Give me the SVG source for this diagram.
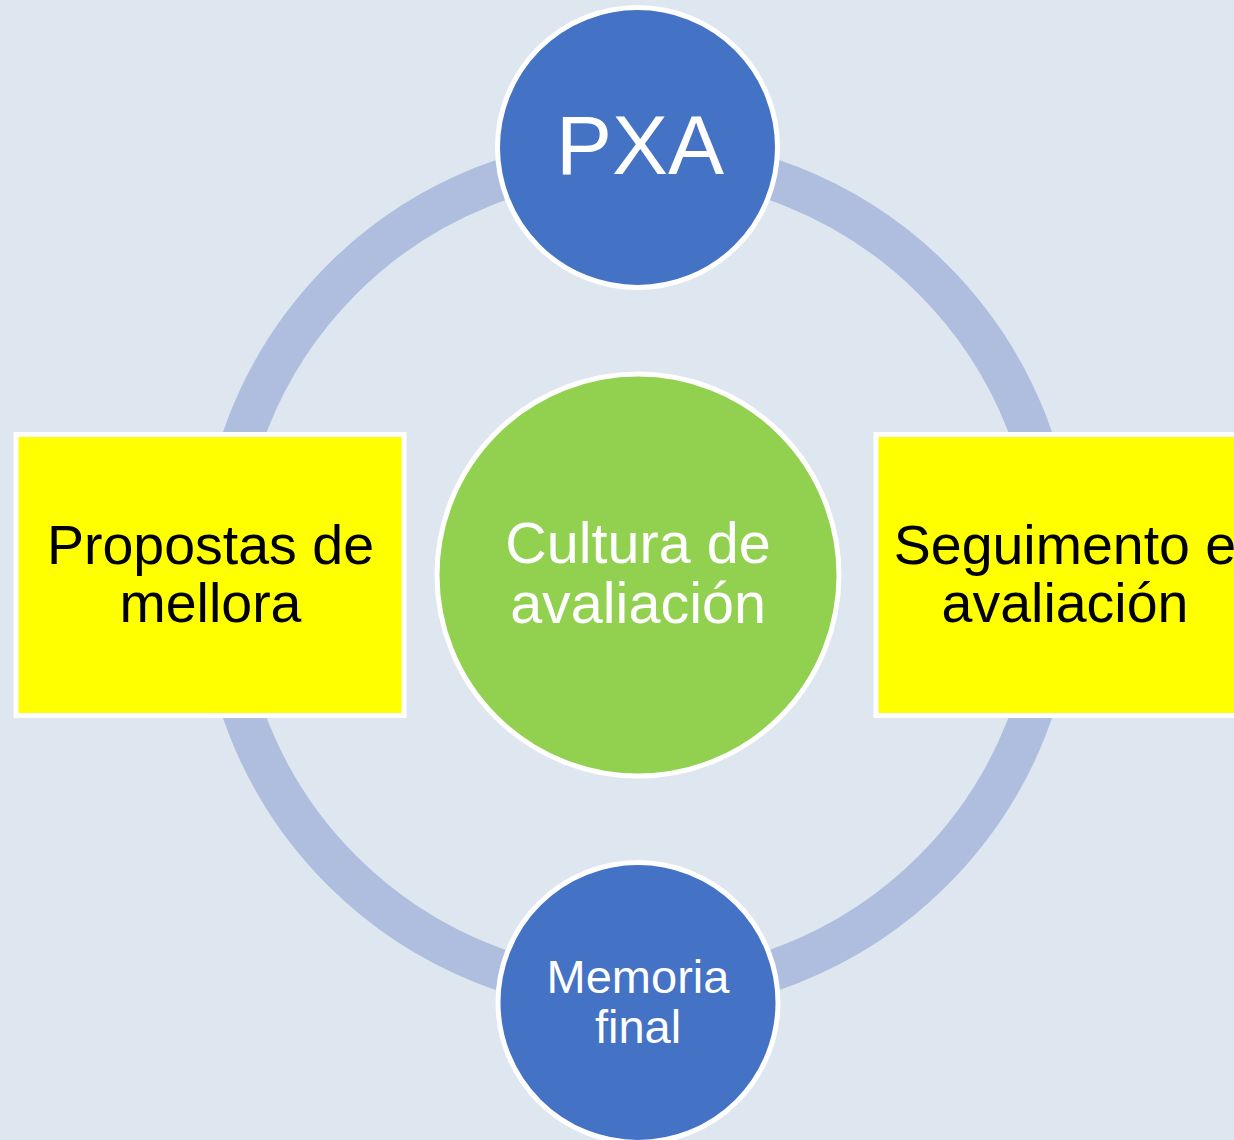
<svg xmlns="http://www.w3.org/2000/svg" width="1234" height="1140" viewBox="0 0 1234 1140">
<style>
.bg{fill:#DEE6EF}
.ring{fill:none;stroke:#AFBDDF;stroke-width:41}
.blue{fill:#4472C4;stroke:#FFFFFF;stroke-width:5}
.green{fill:#92D050;stroke:#FFFFFF;stroke-width:5}
.yellow{fill:#FFFF00;stroke:#FFFFFF;stroke-width:5}
text{font-family:"Liberation Sans",Arial,sans-serif;text-anchor:middle}
.w{fill:#FFFFFF}
.k{fill:#000000}
</style>
<rect class="bg" x="0" y="0" width="1234" height="1140"/>
<g id="connectors">
<circle class="ring" cx="637.5" cy="575" r="418"/>
</g>
<g id="node-center">
<circle class="green" cx="638" cy="575" r="201"/>
<text class="w" font-size="57.5" x="638" y="563">Cultura de</text>
<text class="w" font-size="57.5" x="638" y="623">avaliación</text>
</g>
<g id="node-pxa">
<circle class="blue" cx="637.5" cy="147.5" r="140"/>
<text class="w" font-size="84" x="640" y="174">PXA</text>
</g>
<g id="node-propostas">
<rect class="yellow" x="16" y="434.5" width="388" height="281"/>
<text class="k" font-size="55.5" x="210.5" y="564">Propostas de</text>
<text class="k" font-size="55.5" x="210.5" y="622">mellora</text>
</g>
<g id="node-seguimento">
<rect class="yellow" x="876" y="434.5" width="388" height="281"/>
<text class="k" font-size="55.5" x="1065" y="564">Seguimento e</text>
<text class="k" font-size="55.5" x="1065" y="622">avaliación</text>
</g>
<g id="node-memoria">
<circle class="blue" cx="638" cy="1002.5" r="140"/>
<text class="w" font-size="47" x="638" y="993">Memoria</text>
<text class="w" font-size="47" x="638" y="1043">final</text>
</g>
</svg>
